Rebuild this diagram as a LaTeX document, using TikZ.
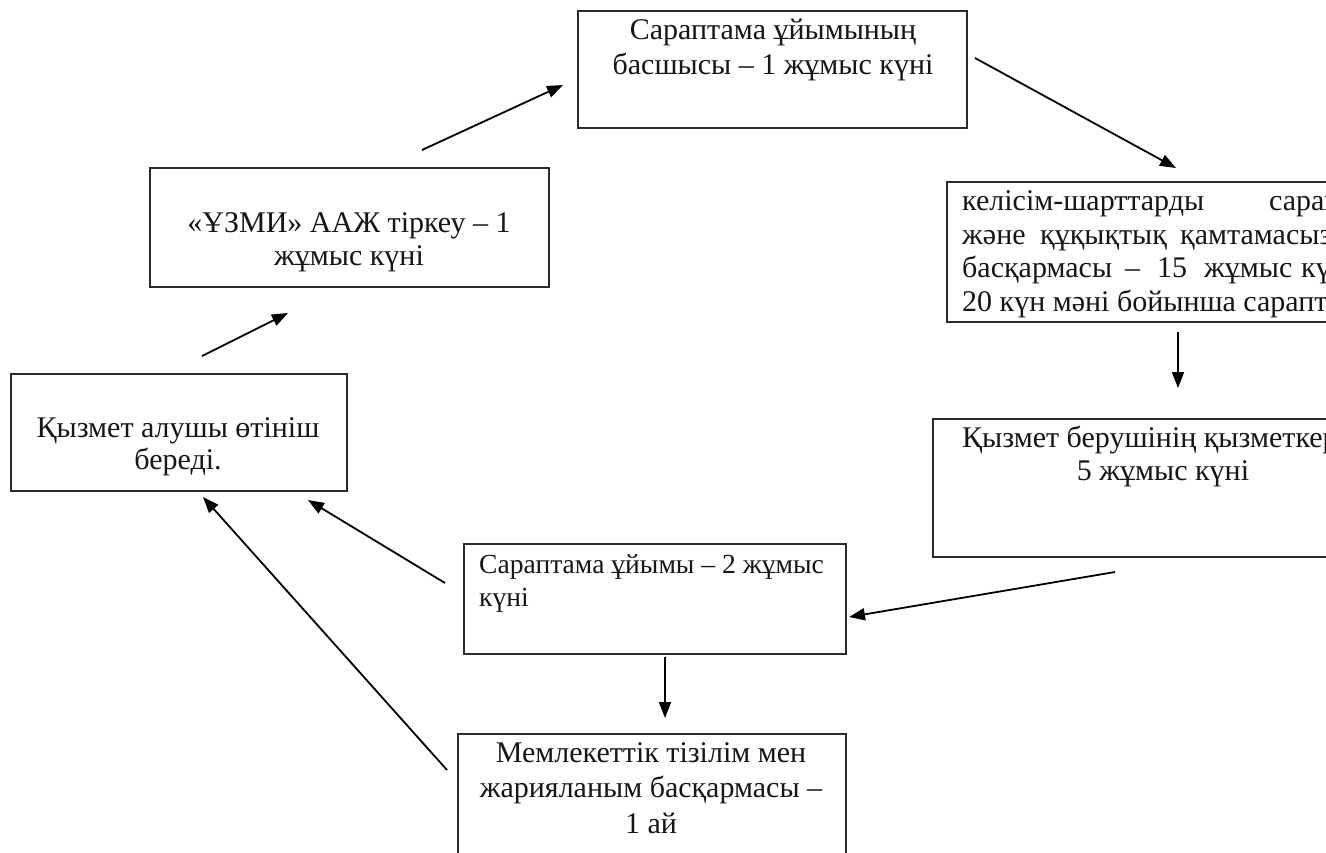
\documentclass[tikz,border=0pt]{standalone}
\usepackage{fontspec}
\setmainfont{Liberation Serif}
\usetikzlibrary{arrows.meta}
\definecolor{frame}{HTML}{2B2B2B}
\definecolor{ink}{HTML}{161616}
\begin{document}
\begin{tikzpicture}[x=1pt,y=-1pt,
  stepbox/.style={draw=frame, line width=2.2pt, inner sep=0pt, anchor=north west, fill=white},
  label/.style={text=ink, inner sep=0pt, font=\fontsize{30}{34}\selectfont},
  small/.style={label, font=\fontsize{27.6}{34}\selectfont},
  flow/.style={draw=black, line width=1.8pt, -{Triangle[length=16pt,width=12pt]}}]

% page and clipping frame
\path[use as bounding box, fill=white] (0,0) rectangle (1326,852);
\clip (0,0) rectangle (1326,852);

% boxes
\node[stepbox, minimum width=389pt, minimum height=117pt] (b1) at (577,10) {};
\node[stepbox, minimum width=399pt, minimum height=119pt] (b2) at (149,167) {};
\node[stepbox, minimum width=420pt, minimum height=140pt] (b3) at (946,181) {};
\node[stepbox, minimum width=336pt, minimum height=117pt] (b4) at (10,373) {};
\node[stepbox, minimum width=480pt, minimum height=138pt] (b5) at (932,418) {};
\node[stepbox, minimum width=382pt, minimum height=110pt] (b6) at (463,543) {};
\node[stepbox, minimum width=388pt, minimum height=150pt] (b7) at (457,733) {};

% texts
\node[label, anchor=base] (t1a) at (773,39) {Сараптама ұйымының};
\node[label, anchor=base] (t1b) at (773,74) {басшысы – 1 жұмыс күні};

\node[label, anchor=base] (t2a) at (349,232) {«ҰЗМИ» ААЖ тіркеу – 1};
\node[label, anchor=base] (t2b) at (349,265) {жұмыс күні};

% justified lines, word by word
\node[label, anchor=base west] (t3a1) at (962,210) {келісім-шарттарды};
\node[label, anchor=base west] (t3a2) at (1269,210) {сарап};
\node[label, anchor=base west] (t3b1) at (962,244) {және};
\node[label, anchor=base west] (t3b2) at (1040,244) {құқықтық};
\node[label, anchor=base west] (t3b3) at (1180,244) {қамтамасыз};
\node[label, anchor=base west] (t3c1) at (962,277) {басқармасы};
\node[label, anchor=base west] (t3c2) at (1125,277) {–};
\node[label, anchor=base west] (t3c3) at (1157,277) {15};
\node[label, anchor=base west] (t3c4) at (1204,277) {жұмыс};
\node[label, anchor=base west] (t3c5) at (1301,277) {күні};
\node[label, anchor=base west] (t3d) at (962,311) {20 күн мәні бойынша сарапт};

\node[label, anchor=base] (t4a) at (178,437) {Қызмет алушы өтініш};
\node[label, anchor=base] (t4b) at (178,469) {береді.};

\node[label, anchor=base west] (t5a) at (962,447) {Қызмет берушінің қызметкер};
\node[label, anchor=base] (t5b) at (1163,480) {5 жұмыс күні};

\node[small, anchor=base west] (t6a) at (479,573) {Сараптама ұйымы – 2 жұмыс};
\node[small, anchor=base west] (t6b) at (479,606) {күні};

\node[label, anchor=base] (t7a) at (651,762) {Мемлекеттік тізілім мен};
\node[label, anchor=base] (t7b) at (651,797) {жарияланым басқармасы –};
\node[label, anchor=base] (t7c) at (651,833) {1 ай};

% connector end points
\coordinate (a4s) at (202,356);  \coordinate (a4e) at (288,313);
\coordinate (a2s) at (422,150);  \coordinate (a2e) at (563,85);
\coordinate (a1s) at (975,58);   \coordinate (a1e) at (1176,168);
\coordinate (a3s) at (1178,332); \coordinate (a3e) at (1178,388);
\coordinate (a5s) at (1115,572); \coordinate (a5e) at (849,617);
\coordinate (a6s) at (665,657);  \coordinate (a6e) at (665,718);
\coordinate (a6w) at (445,583);  \coordinate (a6x) at (308,500);
\coordinate (a7s) at (447,770);  \coordinate (a7e) at (203,497);

% connectors
\draw[flow] (a4s) -- (a4e);
\draw[flow] (a2s) -- (a2e);
\draw[flow] (a1s) -- (a1e);
\draw[flow] (a3s) -- (a3e);
\draw[flow] (a5s) -- (a5e);
\draw[flow] (a6s) -- (a6e);
\draw[flow] (a6w) -- (a6x);
\draw[flow] (a7s) -- (a7e);
\end{tikzpicture}
\end{document}
